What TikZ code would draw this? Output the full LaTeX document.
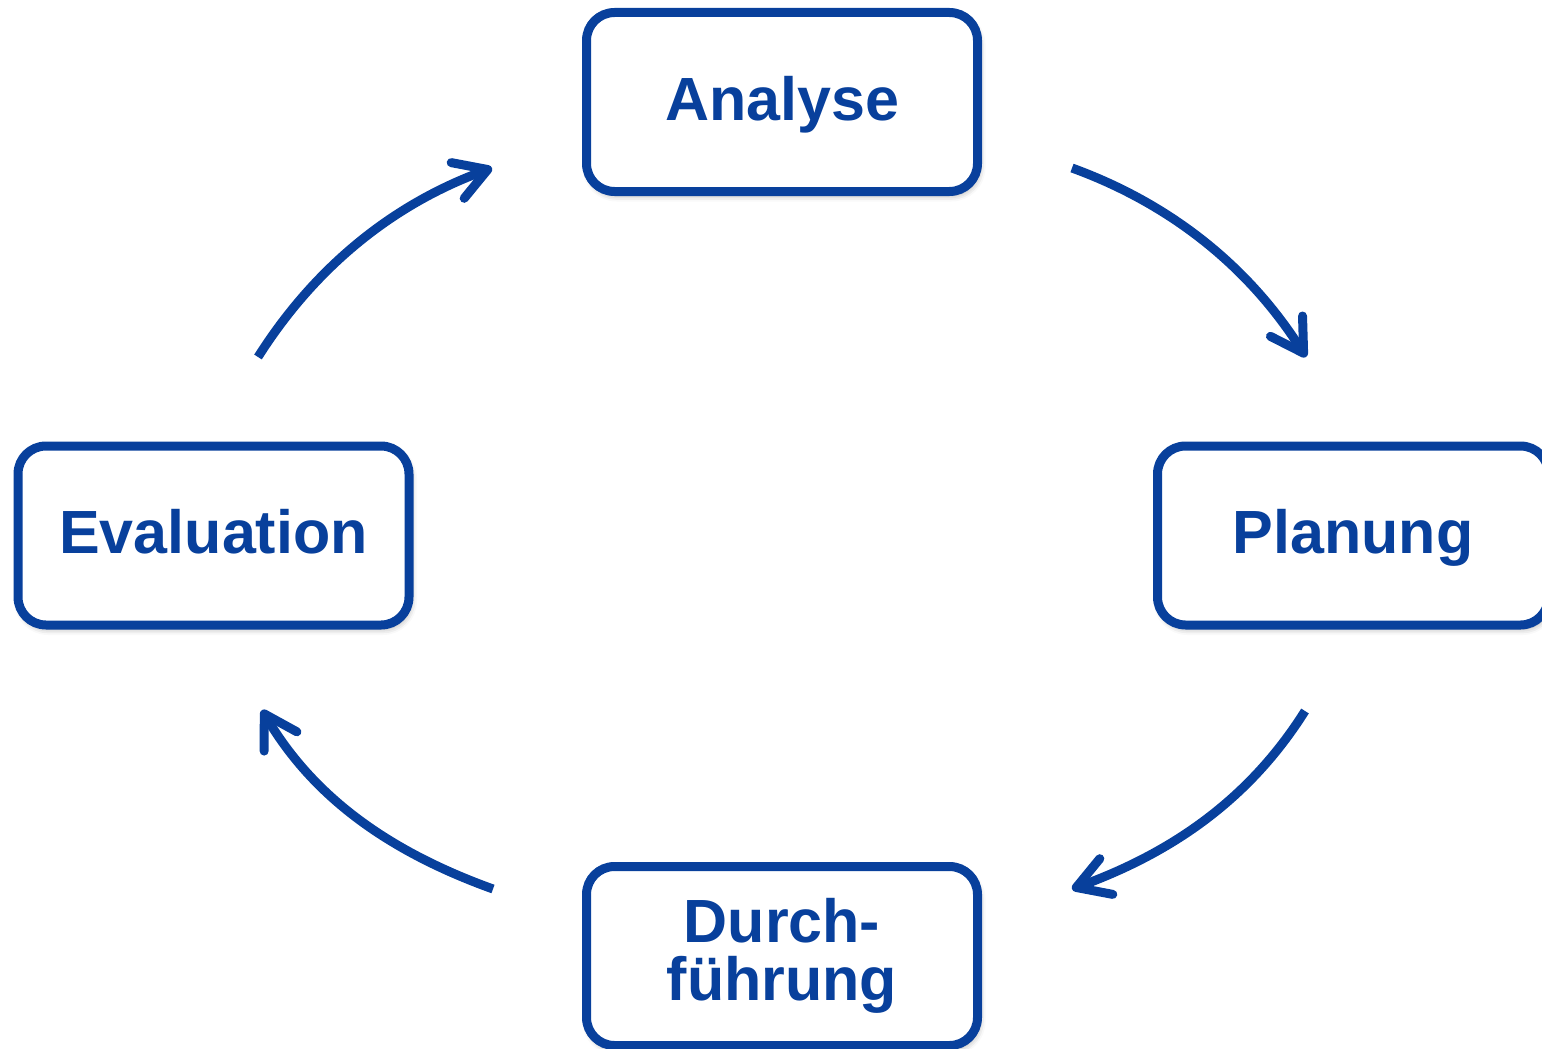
\documentclass[tikz,border=0pt]{standalone}
\usepackage{fontspec}
\setmainfont{Liberation Sans}
\usetikzlibrary{arrows.meta,shadows.blur}
\definecolor{cycleblue}{HTML}{08409C}
\begin{document}
\begin{tikzpicture}[x=1pt,y=-1pt,
  phase/.style={draw=cycleblue, line width=9pt, rounded corners=28pt, fill=white,
    minimum width=391pt, minimum height=179pt, inner sep=0pt, text=cycleblue,
    font=\fontsize{61}{58}\selectfont\bfseries,
    blur shadow={shadow xshift=2pt, shadow yshift=-4pt, shadow blur radius=6pt, shadow opacity=35}},
  oneline/.style={text height=44pt, text depth=8pt},
  cyclearrow/.style={draw=cycleblue, line width=9pt,
    -{Straight Barb[length=32pt, width=38pt, round]}}
]
\useasboundingbox (0,0) rectangle (1542,1049);

% the four phases of the cycle
\node[phase, oneline] (analyse) at (782,102) {Analyse};
\node[phase, oneline] (planung) at (1353,535.5) {Planung};
\node[phase, align=center] (durch) at (782,956) {Durch-\\führung};
\node[phase, oneline] (eval) at (213.5,535.5) {Evaluation};

% free ends of the curved arrows
\coordinate (a1s) at (1072,168);
\coordinate (a1e) at (1306,357);
\coordinate (a2s) at (1305,711);
\coordinate (a2e) at (1072,889);
\coordinate (a3s) at (493,889);
\coordinate (a3e) at (262,710);
\coordinate (a4s) at (258,357);
\coordinate (a4e) at (492,168);

% clockwise arrows between the phases
\draw[cyclearrow] (a1s) .. controls (1171,204) and (1249,267) .. (a1e);
\draw[cyclearrow] (a2s) .. controls (1249,800) and (1171,853) .. (a2e);
\draw[cyclearrow] (a3s) .. controls (393,853) and (315,800) .. (a3e);
\draw[cyclearrow] (a4s) .. controls (315,267) and (393,204) .. (a4e);
\end{tikzpicture}
\end{document}
